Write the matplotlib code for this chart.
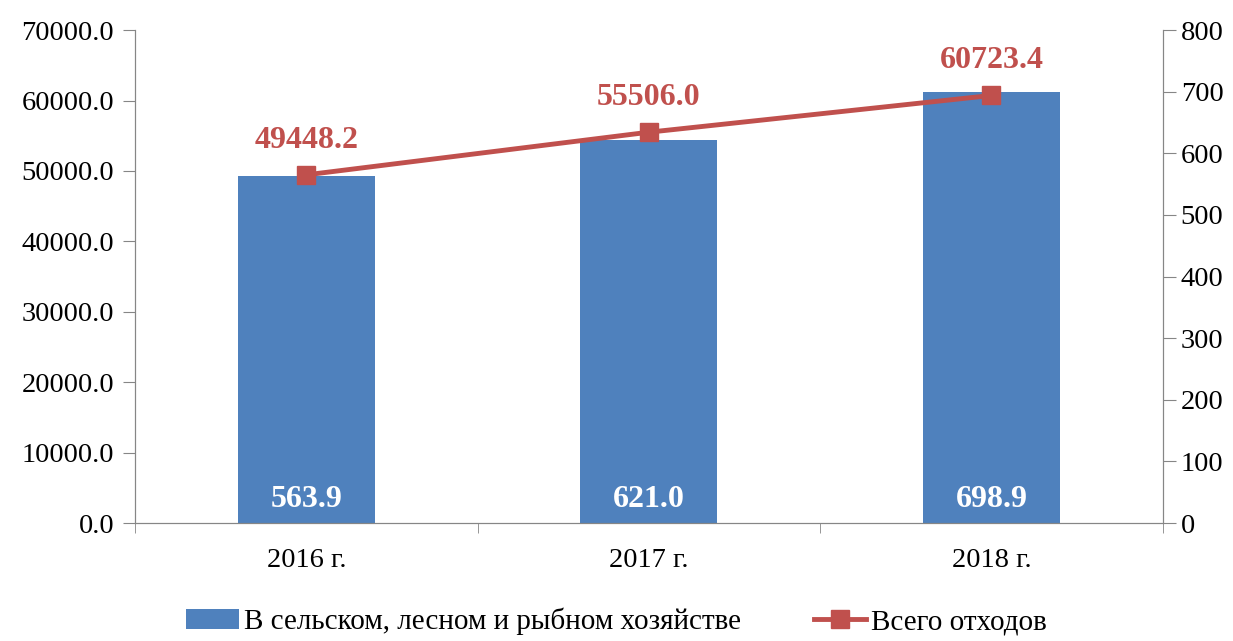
import matplotlib.pyplot as plt
from matplotlib.ticker import FormatStrFormatter

plt.rcParams['font.family'] = ['Liberation Serif', 'DejaVu Serif']

years = ['2016 г.', '2017 г.', '2018 г.']
agri = [563.9, 621.0, 698.9]
total = [49448.2, 55506.0, 60723.4]
bar_label = 'В сельском, лесном и рыбном хозяйстве'
line_label = 'Всего отходов'

blue = '#4F81BD'
red = '#C0504D'
grey = '#868686'

fig = plt.figure(figsize=(12.33, 6.41), dpi=100)
ax = fig.add_axes([0.1095, 0.184, 0.8335, 0.769])
ax2 = ax.twinx()

x = range(len(years))
bars = ax2.bar(x, agri, width=0.4, color=blue, label=bar_label, zorder=1)
ax2.set_ylim(0, 800)
for xi, v in zip(x, agri):
    ax2.annotate(f'{v:.1f}', (xi, 0), xytext=(0, 17), textcoords='offset points',
                 ha='center', va='center', color='white',
                 fontsize=23, fontweight='bold')

# line drawn on left axis, kept above the bars
ax.set_zorder(ax2.get_zorder() + 1)
ax.patch.set_visible(False)
line, = ax.plot(x, total, color=red, lw=3.5, marker='s', ms=13, label=line_label)
ax.set_ylim(0, 70000)
for xi, v in zip(x, total):
    ax.annotate(f'{v:.1f}', (xi, v), xytext=(0, 25), textcoords='offset points',
                ha='center', va='center', color=red, fontsize=23, fontweight='bold')

ax.set_xlim(-0.5, 2.5)
ax.set_xticks(list(x))
ax.set_xticklabels(years)
ax.set_xticks([-0.5, 0.5, 1.5, 2.5], minor=True)
ax.tick_params(axis='x', which='major', length=0, labelsize=20.5, pad=18)
ax.tick_params(axis='x', which='minor', length=7, color=grey, direction='out')
ax.set_yticks(range(0, 70001, 10000))
ax.yaxis.set_major_formatter(FormatStrFormatter('%.1f'))
ax.tick_params(axis='y', labelsize=20.5, length=9, color=grey, direction='out', pad=6)
ax2.set_yticks(range(0, 801, 100))
ax2.tick_params(axis='y', labelsize=20.5, length=9, color=grey, direction='out', pad=4)

for a in (ax, ax2):
    a.spines['top'].set_visible(False)
    for s in ('left', 'right', 'bottom'):
        a.spines[s].set_color(grey)

fig.legend([bars, line], [bar_label, line_label], loc='lower center',
           bbox_to_anchor=(0.5, -0.032), ncol=2, frameon=False, fontsize=21,
           handlelength=1.8, columnspacing=2.5, handletextpad=0.17)

fig.savefig('out.png', dpi=100)
